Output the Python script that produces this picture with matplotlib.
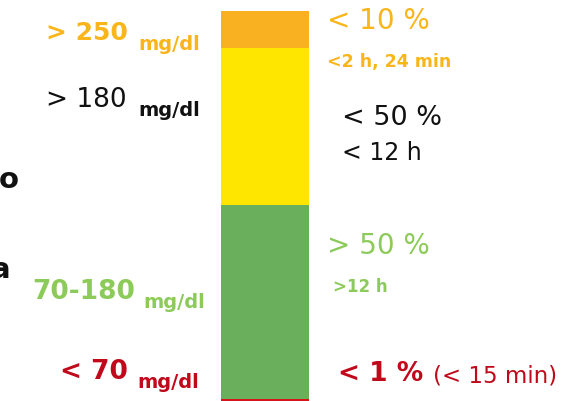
import matplotlib.pyplot as plt

W, H = 588, 401

# share of time in each glucose range, bottom to top
ranges = ["< 70", "70-180", "> 180", "> 250"]
shares = [1, 49.5, 40, 10]
colors = ["#D7141E", "#6AAF5C", "#FFE600", "#F9B122"]

FONT = "DejaVu Sans"
ORANGE = "#F9B51A"
GREEN = "#8CCB5A"
RED = "#C0091A"
BLACK = "#111111"


def px(x, y):
    return x / W, 1 - y / H


def label(x, y, s, color, size, weight="normal", ha="left"):
    fig.text(*px(x, y), s, color=color, fontsize=size, fontweight=weight,
             family=FONT, ha=ha, va="center")


fig = plt.figure(figsize=(W / 100, H / 100), dpi=100, facecolor="white")
ax = fig.add_axes([221 / W, 0, 88 / W, 390 / H])
bottom = 0
for v, c in zip(shares, colors):
    ax.bar(0, v, bottom=bottom, width=1, color=c, edgecolor="none")
    bottom += v
ax.set_xlim(-0.5, 0.5)
ax.set_ylim(0.4, 100)
ax.axis("off")

# left side: glucose ranges
label(128, 33, "> 250", ORANGE, 18, "bold", "right")
label(138, 45, "mg/dl", ORANGE, 14, "bold")
label(127, 100, "> 180", BLACK, 19, "normal", "right")
label(138, 111, "mg/dl", BLACK, 14, "bold")
label(135, 292, "70-180", GREEN, 19, "bold", "right")
label(143, 302, "mg/dl", GREEN, 14, "bold")
label(128, 372, "< 70", RED, 19, "bold", "right")
label(137, 383, "mg/dl", RED, 14, "bold")

# cut-off text at the left edge
label(-1, 180, "o", BLACK, 21, "bold")
label(-9, 270, "a", BLACK, 21, "bold")

# right side: time in range targets
label(327, 21, "< 10 %", ORANGE, 20)
label(327, 62, "<2 h, 24 min", ORANGE, 12.5, "bold")
label(342, 118, "< 50 %", BLACK, 19.5)
label(342, 153, "< 12 h", BLACK, 17)
label(327, 246, "> 50 %", GREEN, 20)
label(333, 287, ">12 h", GREEN, 12, "bold")
label(338, 374, "< 1 %", RED, 19, "bold")
label(433, 376, "(< 15 min)", RED, 16.5)

fig.savefig("out.png", dpi=100, facecolor="white")
